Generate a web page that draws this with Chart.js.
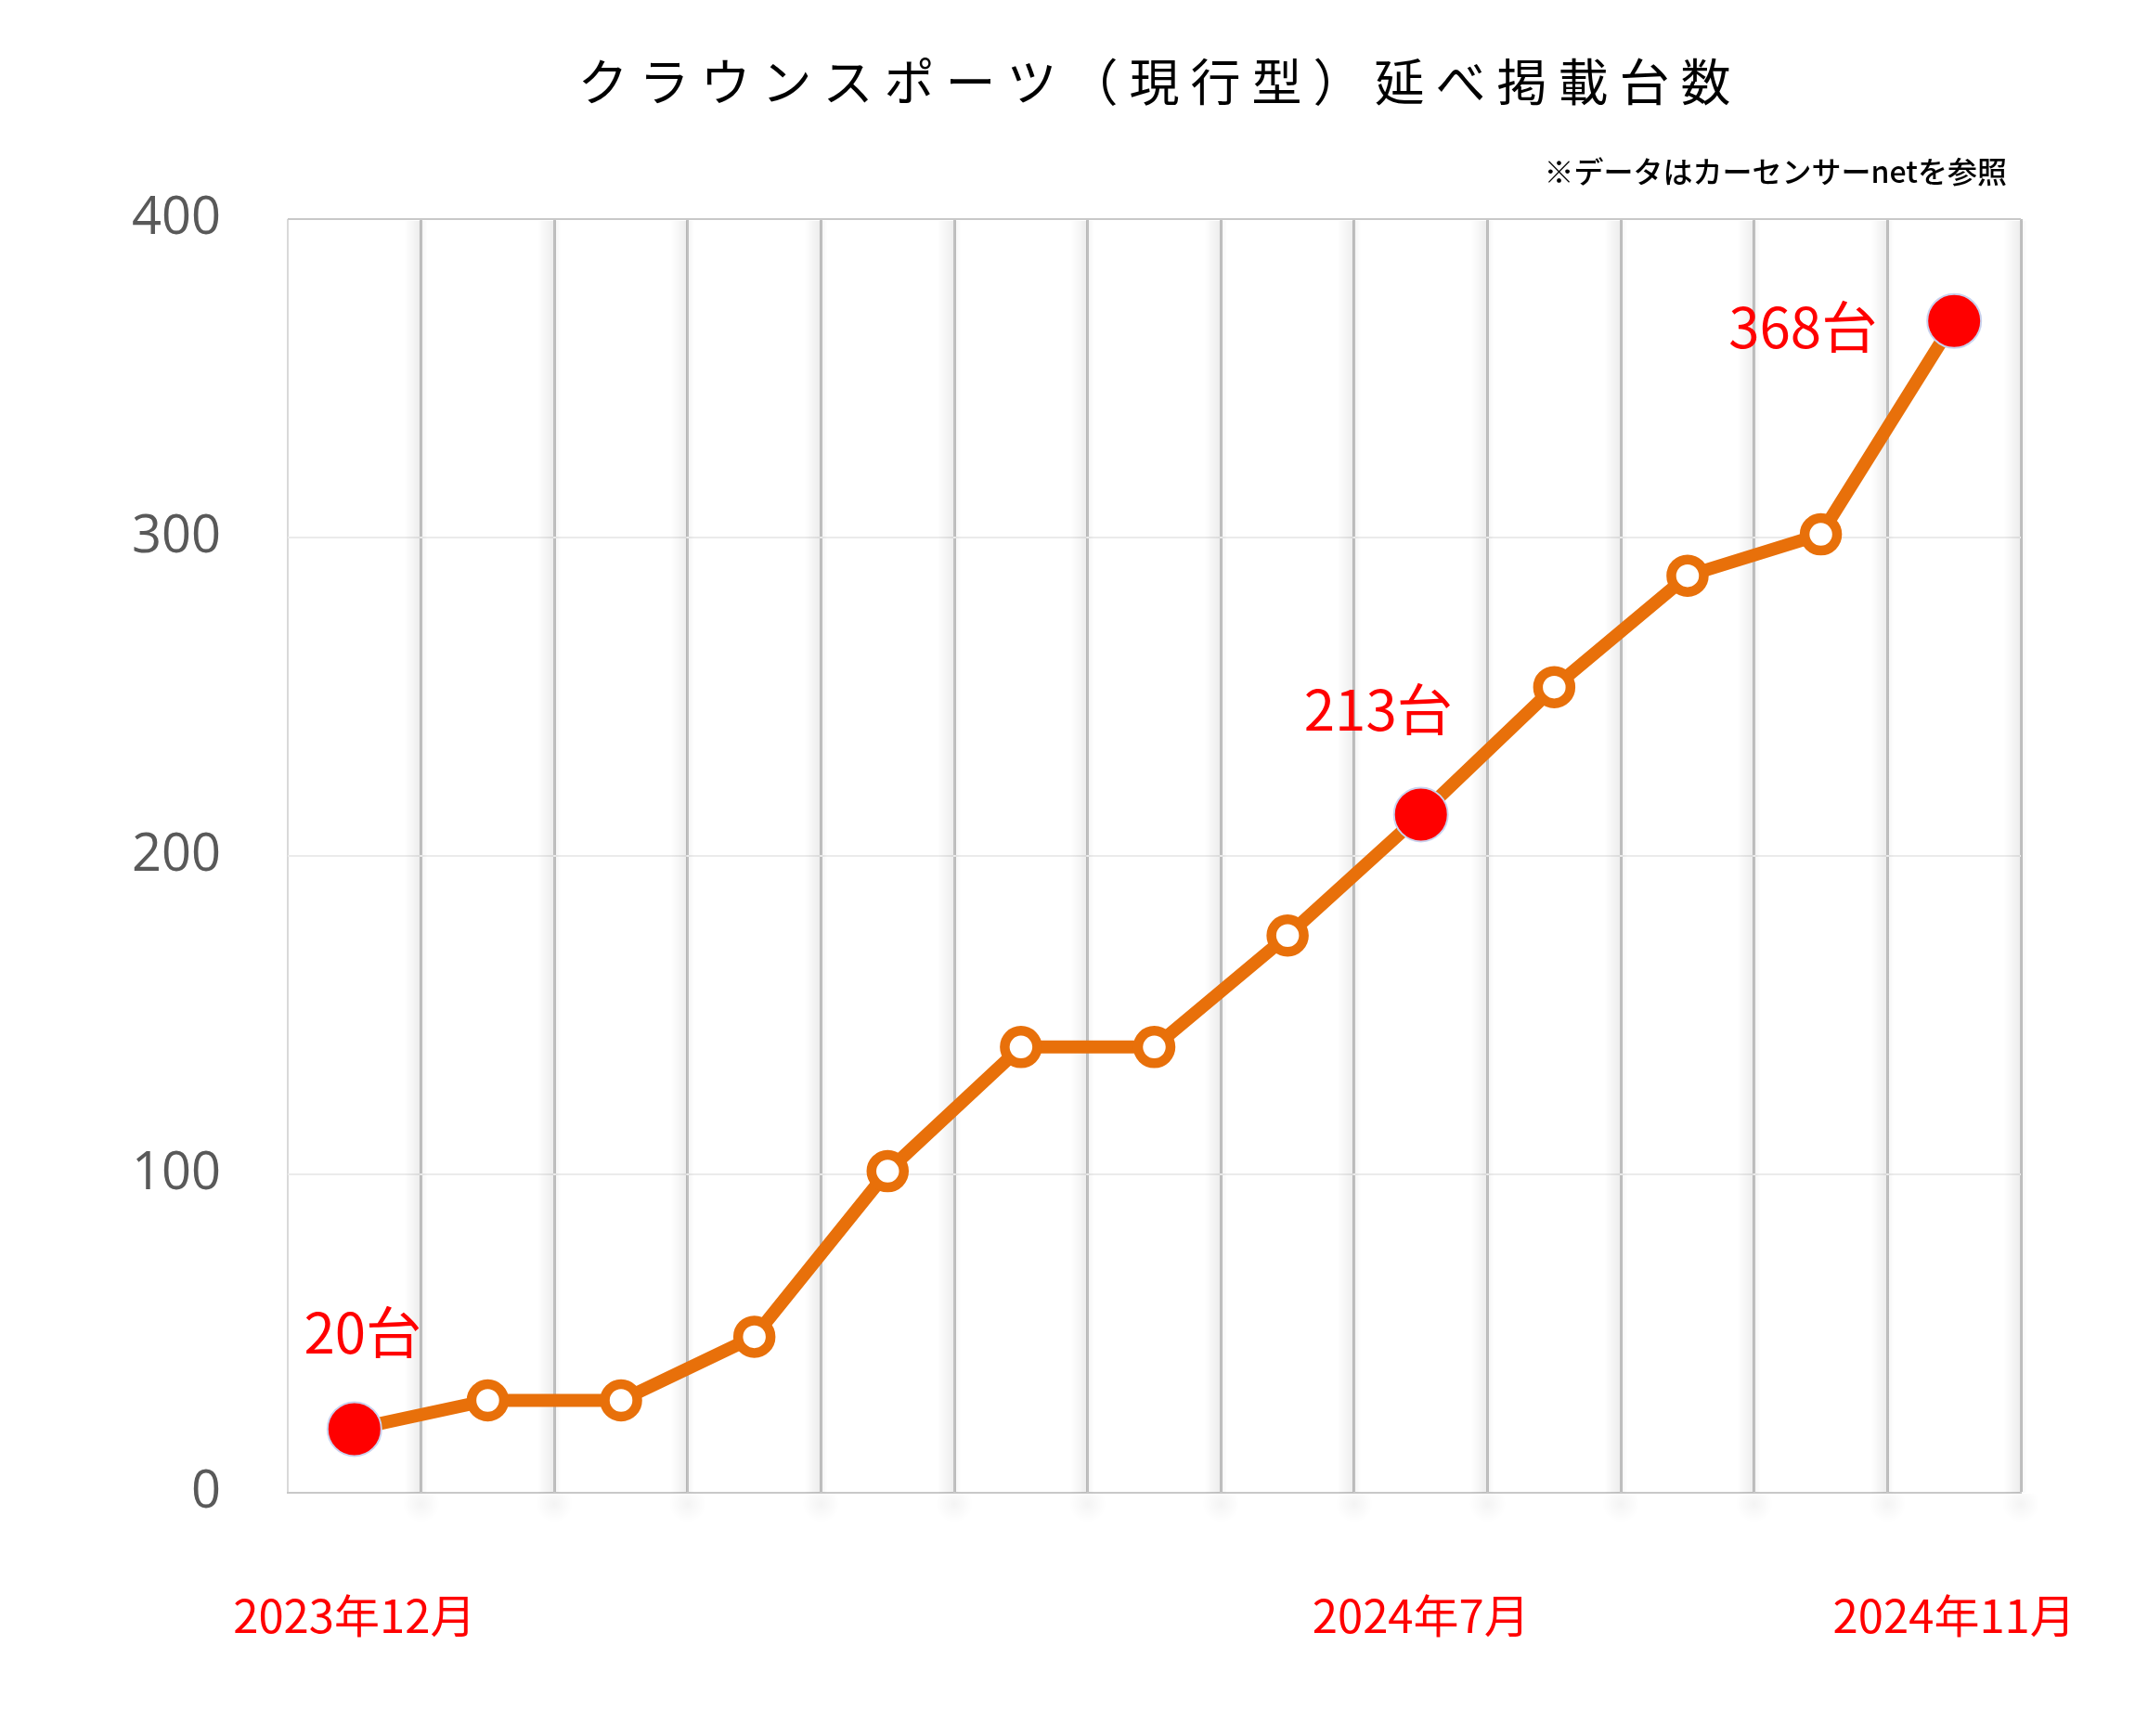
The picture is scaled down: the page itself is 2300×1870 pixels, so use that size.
<!DOCTYPE html>
<html>
<head>
<meta charset="utf-8">
<title>クラウンスポーツ（現行型）延べ掲載台数</title>
<script src="https://cdn.jsdelivr.net/npm/chart.js@4.4.1/dist/chart.umd.min.js"></script>
<style>
    html, body { margin: 0; padding: 0; background: #fff; }
    #wrap { width: 2300px; height: 1870px; }
</style>
</head>
<body>
<div id="wrap"><canvas id="chart" width="2300" height="1870"></canvas></div>
<script>
// =====================================================
// DATA
// =====================================================
const categories = ['2023年12月', '', '', '', '', '', '', '', '2024年7月', '', '', '', '2024年11月'];
const listings = [20, 29, 29, 49, 101, 140, 140, 175, 213, 253, 288, 301, 368];
const yTicks = [0, 100, 200, 300, 400];
const highlightIdx = [0, 8, 12];

const titleText = 'クラウンスポーツ（現行型）延べ掲載台数';
const noteText = '※データはカーセンサーnetを参照';

const LINE_COLOR = '#E8700A';
const RED = '#FF0000';
const CJK = '"Noto Sans CJK JP", "Noto Sans", sans-serif';

const isHi = i => highlightIdx.includes(i);

// =====================================================
// PLUGINS
// =====================================================
// soft shadow beside each vertical grid line
const gridShadow = {
    id: 'gridShadow',
    beforeDatasetsDraw(chart) {
        const xs = chart.scales.x;
        const { top, bottom } = chart.chartArea;
        const ctx = chart.ctx;
        const step = xs.width / categories.length;
        ctx.save();
        for (let i = 1; i <= categories.length; i++) {
            const bx = xs.getPixelForValue(i - 1) + step / 2;
            let g = ctx.createLinearGradient(bx - 18, 0, bx - 1, 0);
            g.addColorStop(0, 'rgba(0,0,0,0)');
            g.addColorStop(1, 'rgba(0,0,0,0.07)');
            ctx.fillStyle = g;
            ctx.fillRect(bx - 18, top + 2, 17, bottom - top - 2);
            g = ctx.createLinearGradient(bx + 1, 0, bx + 7, 0);
            g.addColorStop(0, 'rgba(0,0,0,0.04)');
            g.addColorStop(1, 'rgba(0,0,0,0)');
            ctx.fillStyle = g;
            ctx.fillRect(bx + 1, top + 2, 6, bottom - top - 2);
            // faint blob under the axis
            const r = ctx.createRadialGradient(bx, bottom + 12, 0, bx, bottom + 12, 20);
            r.addColorStop(0, 'rgba(0,0,0,0.045)');
            r.addColorStop(1, 'rgba(0,0,0,0)');
            ctx.fillStyle = r;
            ctx.fillRect(bx - 20, bottom + 1, 40, 32);
        }
        ctx.restore();
    }
};

// value labels for highlighted points
const labelOffset = { 0: [9, -104], 8: [-46, -113], 12: [-163, 6] };
const valueLabels = {
    id: 'valueLabels',
    afterDatasetsDraw(chart) {
        const meta = chart.getDatasetMeta(0);
        const ctx = chart.ctx;
        ctx.save();
        ctx.font = '400 60px ' + CJK;
        ctx.fillStyle = RED;
        ctx.textAlign = 'center';
        ctx.textBaseline = 'middle';
        highlightIdx.forEach(i => {
            const pt = meta.data[i];
            const off = labelOffset[i] || [0, -100];
            ctx.fillText(listings[i] + '台', pt.x + off[0], pt.y + off[1]);
        });
        ctx.restore();
    }
};

// spaced title and source note
const headerText = {
    id: 'headerText',
    afterDraw(chart) {
        const ctx = chart.ctx;
        const area = chart.chartArea;
        ctx.save();
        ctx.fillStyle = '#000';
        ctx.textBaseline = 'middle';
        ctx.font = '400 54px ' + CJK;
        ctx.letterSpacing = '12px';
        ctx.textAlign = 'center';
        ctx.fillText(titleText, (area.left + area.right) / 2 + 6, 88);
        ctx.letterSpacing = '0px';
        ctx.font = '500 32px ' + CJK;
        ctx.textAlign = 'right';
        ctx.fillText(noteText, area.right - 15, 185);
        ctx.restore();
    }
};

// =====================================================
// CHART
// =====================================================
new Chart(document.getElementById('chart'), {
    type: 'line',
    data: {
        labels: categories,
        datasets: [{
            data: listings,
            borderColor: LINE_COLOR,
            borderWidth: 14,
            tension: 0,
            pointRadius: listings.map((v, i) => isHi(i) ? 29 : 17.5),
            pointBorderWidth: listings.map((v, i) => isHi(i) ? 2 : 10.5),
            pointBackgroundColor: listings.map((v, i) => isHi(i) ? RED : '#FFFFFF'),
            pointBorderColor: listings.map((v, i) => isHi(i) ? '#C9D2EE' : LINE_COLOR),
            clip: false
        }]
    },
    options: {
        responsive: false,
        animation: false,
        events: [],
        layout: { padding: { top: 236, right: 123, left: 0, bottom: 0 } },
        plugins: { legend: { display: false }, tooltip: { enabled: false }, title: { display: false } },
        scales: {
            x: {
                type: 'category',
                offset: true,
                afterFit: s => { s.height = 262; s.paddingLeft = 0; s.paddingRight = 0; },
                grid: {
                    offset: true,
                    drawTicks: false,
                    color: c => c.index === 0 ? '#d9d9d9' : '#c0c0c0',
                    lineWidth: c => c.index === 0 ? 2 : 3
                },
                border: { display: true, color: '#c8c8c8', width: 2 },
                ticks: {
                    autoSkip: false,
                    maxRotation: 0,
                    padding: 103,
                    color: RED,
                    font: { family: CJK, size: 49 }
                }
            },
            y: {
                min: 0,
                max: 400,
                afterFit: s => { s.width = 310; s.paddingTop = 0; s.paddingBottom = 0; },
                afterBuildTicks: s => { s.ticks = yTicks.map(v => ({ value: v })); },
                grid: {
                    drawTicks: false,
                    color: c => (c.tick && (c.tick.value === 400 || c.tick.value === 0)) ? '#c8c8c8' : '#ebebeb',
                    lineWidth: 2
                },
                border: { display: false },
                ticks: {
                    padding: 72,
                    color: '#595959',
                    font: { family: '"Open Sans", sans-serif', size: 56 }
                }
            }
        }
    },
    plugins: [gridShadow, valueLabels, headerText]
});
</script>
</body>
</html>
